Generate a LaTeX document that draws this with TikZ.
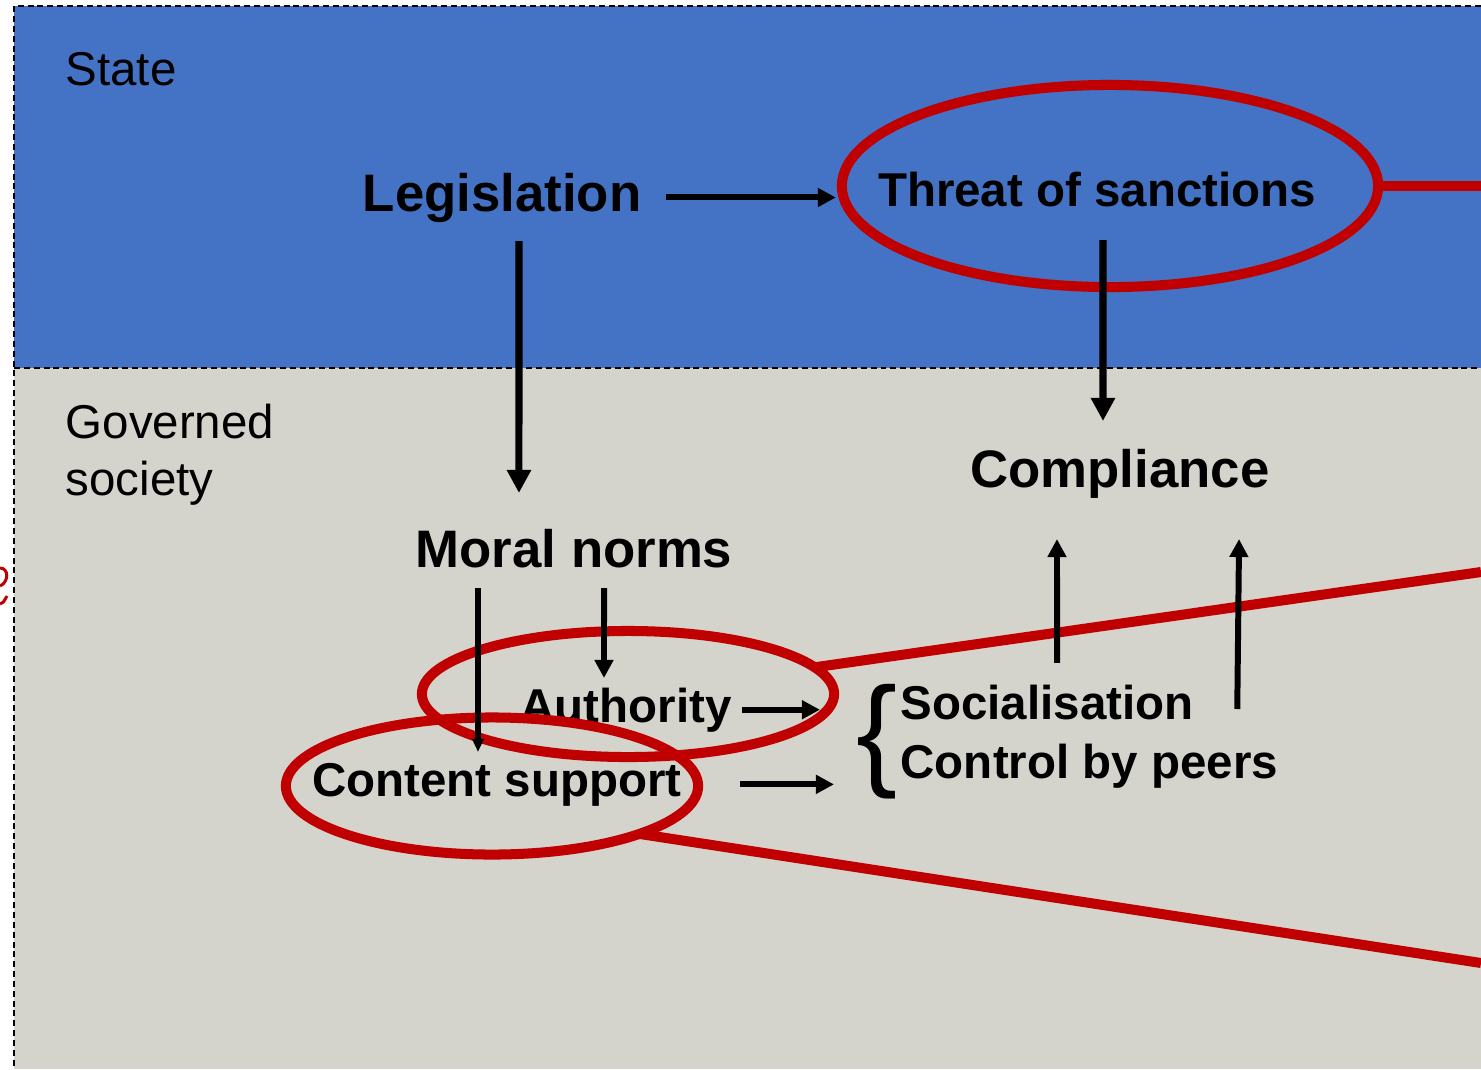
\documentclass[tikz,border=0pt]{standalone}
\usepackage{fontspec}
\setmainfont{Liberation Sans}
\usetikzlibrary{arrows.meta,shapes.geometric}
\definecolor{stateblue}{HTML}{4472C4}
\definecolor{societygrey}{RGB}{212,212,204}
\definecolor{ringred}{HTML}{C00000}
\tikzset{
    lbl/.style={font=\fontsize{13.5}{16.2}\selectfont, inner sep=0pt},
    key/.style={font=\fontsize{13.5}{16}\selectfont\bfseries, inner sep=0pt},
    bigkey/.style={font=\fontsize{15}{18}\selectfont\bfseries, inner sep=0pt},
    arr/.style={line width=1.7pt, -{Triangle[length=0.18cm,width=0.18cm]}},
    bigarr/.style={line width=2pt, -{Triangle[length=0.23cm,width=0.23cm]}},
    ring/.style={ellipse, draw=ringred, line width=2.85pt, inner sep=0pt, outer sep=0pt},
    border/.style={line width=0.6pt, dash pattern=on 1.7pt off 1.1pt}
}
\begin{document}
\begin{tikzpicture}[x=0.01cm, y=-0.01cm]
    \useasboundingbox (0,0) rectangle (1481,1069);
    \fill[stateblue] (14,6) rectangle (1481,368);
    \fill[societygrey] (14,368) rectangle (1481,1069);
    \draw[border] (1481,6) -- (14,6) -- (14,1069);
    \draw[border] (14,368) -- (1481,368);
    \draw[ringred, line width=0.85pt] (0,568) .. controls (9,568) and (9,582) .. (0,586);
    \draw[ringred, line width=0.85pt] (0,604) .. controls (3,603) .. (7,596);

    \node[lbl, anchor=base west] (state) at (65,85) {State};
    \node[lbl, anchor=base west, align=left] (gov) at (65,495) {Governed\\society};

    \node[bigkey, anchor=base] (leg) at (502,211) {Legislation};
    \node[key, anchor=base] (threat) at (1097,206) {Threat of sanctions};
    \node[bigkey, anchor=base] (comp) at (1120,487) {Compliance};
    \node[bigkey, anchor=base] (moral) at (574,567) {Moral norms};
    \node[key, anchor=base] (auth) at (626,722) {Authority};
    \node[key, anchor=base] (cont) at (497,796) {Content support};
    \node[lbl, anchor=base west, font=\fontsize{35}{35}\selectfont] (brace) at (856,773) {\{};
    \node[key, anchor=base west] (soc) at (900,719) {Socialisation};
    \node[key, anchor=base west] (ctrl) at (900,778) {Control by peers};

    \node[ring, minimum width=5.36cm, minimum height=2.02cm] (threatring) at (1110,186) {};
    \node[ring, minimum width=4.12cm, minimum height=1.26cm] (authring) at (628,694) {};
    \node[ring, minimum width=4.12cm, minimum height=1.37cm] (contring) at (492,786) {};
    \coordinate (threatend) at (1481,186);
    \coordinate (authend) at (1481,572);
    \coordinate (contend) at (1481,963);
    \draw[ringred, line width=2.85pt] (threatring.east) -- (threatend);
    \draw[ringred, line width=2.85pt] (authring) -- (authend);
    \draw[ringred, line width=2.85pt] (contring.-18) -- (contend);

    \draw[arr] ([xshift=0.24cm]leg.east) -- ([xshift=-0.06cm]leg.east -| threatring.west);
    \draw[bigarr] ([xshift=0.17cm,yshift=-0.3cm]leg.base) -- ([xshift=-0.55cm,yshift=0.74cm]moral.base);
    \draw[bigarr] ([xshift=0.06cm,yshift=-0.34cm]threat.base) -- ([xshift=-0.17cm,yshift=0.66cm]comp.base);
    \draw[line width=1.6pt, -{Triangle[length=0.13cm,width=0.11cm]}] ([xshift=-0.96cm,yshift=-0.21cm]moral.base) -- ([xshift=-0.19cm,yshift=0.44cm]cont.base);
    \draw[arr] ([xshift=0.3cm,yshift=-0.21cm]moral.base) -- ([xshift=-0.22cm,yshift=0.44cm]auth.base);
    \draw[arr] ([xshift=0.1cm]auth.east) -- ([xshift=-0.36cm]auth.east -| brace.west);
    \draw[arr] ([xshift=0.58cm]cont.east) -- ([xshift=-0.22cm]cont.east -| brace.west);
    \draw[arr] ([xshift=1.57cm,yshift=0.56cm]soc.base west) -- ([xshift=-0.63cm,yshift=-0.52cm]comp.base);
    \draw[arr] ([xshift=0.43cm,yshift=0.1cm]soc.base east) -- ([xshift=1.19cm,yshift=-0.52cm]comp.base);
\end{tikzpicture}
\end{document}
